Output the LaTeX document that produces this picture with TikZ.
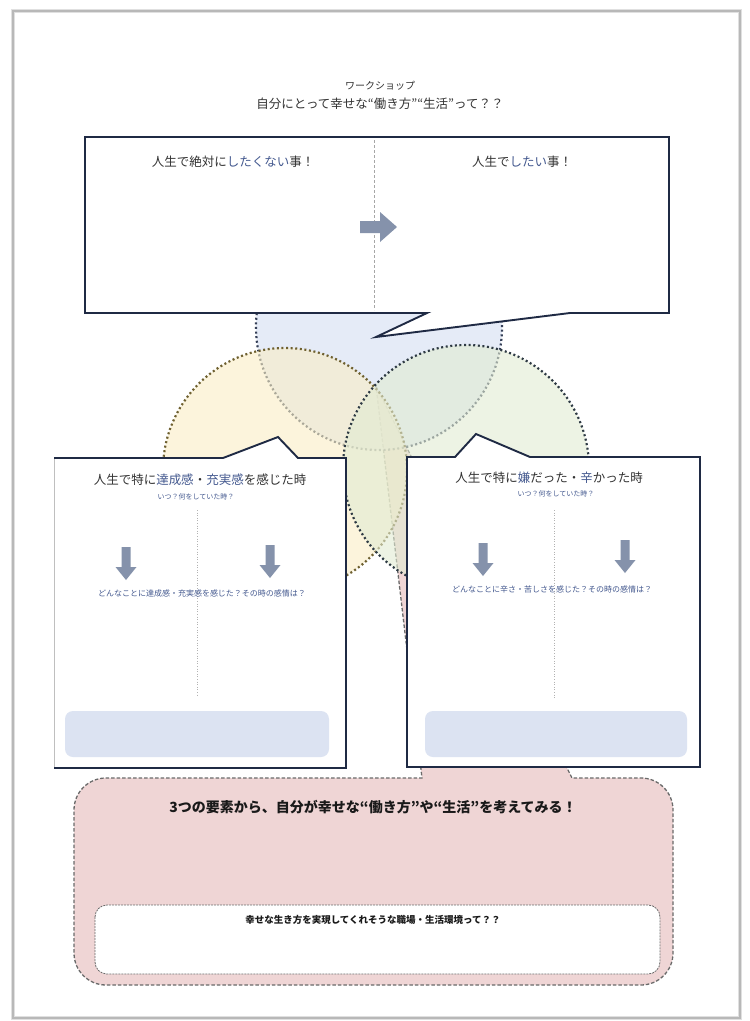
\documentclass[tikz,border=0pt]{standalone}
\usepackage{fontspec}
\newfontfamily\jp{Noto Sans CJK JP}
\definecolor{navy}{HTML}{1F2A44}
\definecolor{bluetxt}{HTML}{44598F}
\definecolor{darktxt}{HTML}{333333}
\definecolor{arrowc}{HTML}{8592AB}
\definecolor{lightrect}{HTML}{DCE3F2}
\definecolor{pinkc}{HTML}{EFD5D5}
\definecolor{dashgrey}{HTML}{6A6A6A}
\definecolor{cblue}{HTML}{D5DFF2}
\definecolor{cyellow}{HTML}{FAEEC5}
\definecolor{cgreen}{HTML}{E1EBD2}
\definecolor{olive}{HTML}{6E6030}
\definecolor{darkgreen}{HTML}{2E3A44}
\tikzset{
  tx/.style={inner sep=0pt, text=darktxt},
  fsA/.style={font=\jp\fontsize{10}{12}\selectfont},
  fsB/.style={font=\jp\fontsize{12.5}{14}\selectfont},
  fsS/.style={font=\jp\fontsize{7}{8}\selectfont, text=bluetxt},
  fsM/.style={font=\jp\fontsize{8}{9}\selectfont, text=bluetxt},
  fsH/.style={font=\jp\bfseries\fontsize{14}{16}\selectfont, text=black!90},
  fsI/.style={font=\jp\bfseries\fontsize{9.5}{11}\selectfont, text=black!90},
  boxline/.style={draw=navy, line width=1.9pt, line join=miter},
  arrowshape/.style={fill=arrowc, draw=none},
  vdiv/.style={draw=black!30, line width=0.7pt, dash pattern=on 1pt off 1.6pt},
  circ/.style={line width=2.2pt, dash pattern=on 2pt off 2.6pt, fill opacity=0.6},
  pinkbox/.style={fill=pinkc, draw=dashgrey, line width=1.3pt, dash pattern=on 3.5pt off 2pt},
}
\begin{document}
\begin{tikzpicture}[x=1pt,y=-1pt]
\useasboundingbox (0,0) rectangle (750,1021);
\fill[white] (0,0) rectangle (750,1021);
% page with shadow
\draw[black!12, line width=4pt] (13,11) rectangle (740,1018);
\draw[black!28, line width=1.2pt] (13,11) rectangle (740,1018);

% title
\node[tx, fsA] (t1) at (380,86) {ワークショップ};
\node[tx, fsB] (t2) at (380,104) {自分にとって幸せな“働き方”“生活”って？？};

% pink callout with tail to the centre of the venn
\path[pinkbox] (376,386) -- (572,778) -- (641,778)
  .. controls (658.7,778) and (673,792.3) .. (673,810) -- (673,953)
  .. controls (673,970.7) and (658.7,985) .. (641,985) -- (106,985)
  .. controls (88.3,985) and (74,970.7) .. (74,953) -- (74,810)
  .. controls (74,792.3) and (88.3,778) .. (106,778) -- (422,778) -- cycle;

% venn circles
\path[circ, fill=cblue, draw=navy!90] (379,327) circle[radius=123pt];
\path[circ, fill=cyellow, draw=olive] (285,470) circle[radius=122pt];
\path[circ, fill=cgreen, draw=darkgreen] (466,468) circle[radius=123pt];

% top callout box
\path[boxline, fill=white] (85,137) -- (669,137) -- (669,313) -- (570,313)
  -- (376,337) -- (427,313) -- (85,313) -- cycle;
\draw[black!35, line width=0.6pt, dash pattern=on 3pt off 2pt] (374,140) -- (374,310);
\fill[arrowshape, shift={(360,227)}] (0,-6) -- (20,-6) -- (20,-15) -- (37,0) -- (20,15) -- (20,6) -- (0,6) -- cycle;
\node[tx, fsB] (tl) at (233,162) {人生で絶対に{\color{bluetxt}したくない}事！};
\node[tx, fsB] (tr) at (522,162) {人生で{\color{bluetxt}したい}事！};

% left box
\fill[white] (54,458) -- (223,458) -- (278,437) -- (298,458) -- (346,458) -- (346,768) -- (54,768) -- cycle;
\draw[black!25, line width=0.8pt] (54,458) -- (54,768);
\draw[boxline] (54,458) -- (223,458) -- (278,437) -- (298,458) -- (346,458) -- (346,768) -- (54,768);
\node[tx, fsB] (lh) at (200,480) {人生で特に{\color{bluetxt}達成感}・{\color{bluetxt}充実感}を感じた時};
\node[tx, fsS] (lq) at (196,497) {いつ？何をしていた時？};
\draw[vdiv] (197,510) -- (197,697);
\fill[arrowshape, shift={(126,547)}] (-4.5,0) -- (4.5,0) -- (4.5,20) -- (10.5,20) -- (0,33) -- (-10.5,20) -- (-4.5,20) -- cycle;
\fill[arrowshape, shift={(270,545)}] (-4.5,0) -- (4.5,0) -- (4.5,20) -- (10.5,20) -- (0,33) -- (-10.5,20) -- (-4.5,20) -- cycle;
\node[tx, fsM] (lm) at (202,593) {どんなことに達成感・充実感を感じた？その時の感情は？};
\fill[lightrect, rounded corners=8pt] (65,711) rectangle (329,757);

% right box
\path[boxline, fill=white] (407,457) -- (455,457) -- (476,434) -- (530,457) -- (700,457) -- (700,767) -- (407,767) -- cycle;
\node[tx, fsB] (rh) at (549,478) {人生で特に{\color{bluetxt}嫌}だった・{\color{bluetxt}辛}かった時};
\node[tx, fsS] (rq) at (556,494) {いつ？何をしていた時？};
\draw[vdiv] (554,510) -- (554,698);
\fill[arrowshape, shift={(483,543)}] (-4.5,0) -- (4.5,0) -- (4.5,20) -- (10.5,20) -- (0,33) -- (-10.5,20) -- (-4.5,20) -- cycle;
\fill[arrowshape, shift={(625,540)}] (-4.5,0) -- (4.5,0) -- (4.5,20) -- (10.5,20) -- (0,33) -- (-10.5,20) -- (-4.5,20) -- cycle;
\node[tx, fsM] (rm) at (552,589) {どんなことに辛さ・苦しさを感じた？その時の感情は？};
\fill[lightrect, rounded corners=8pt] (425,711) rectangle (687,757);

% bottom texts and inner box
\node[tx, fsH] (bh) at (373,807) {3つの要素から、自分が幸せな“働き方”や“生活”を考えてみる！};
\draw[fill=white, draw=dashgrey, line width=0.8pt, dash pattern=on 2pt off 1pt, rounded corners=12pt] (95,905) rectangle (660,974);
\node[tx, fsI] (bi) at (373,920) {幸せな生き方を実現してくれそうな職場・生活環境って？？};
\end{tikzpicture}
\end{document}
